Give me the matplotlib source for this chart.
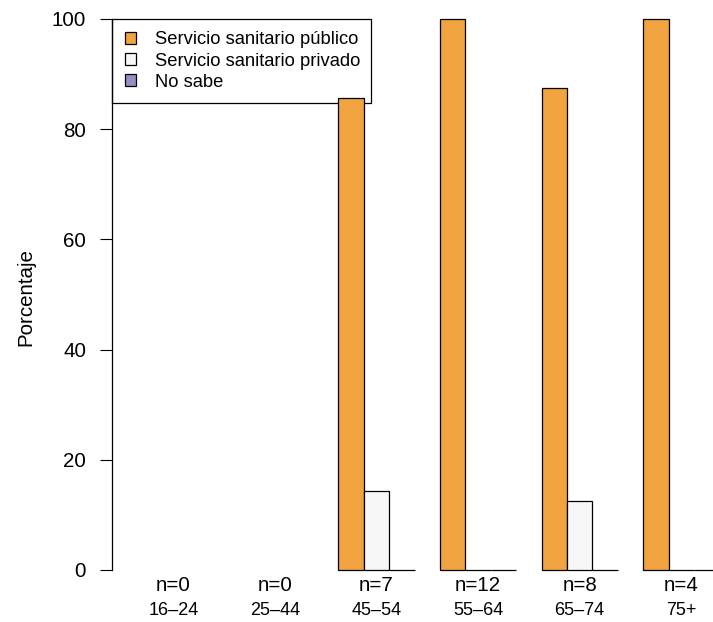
import matplotlib
matplotlib.use("Agg")
import matplotlib.pyplot as plt
import numpy as np

plt.rcParams['font.family'] = ['Liberation Sans', 'DejaVu Sans']

groups = ["16–24", "25–44", "45–54", "55–64", "65–74", "75+"]
counts = [0, 0, 7, 12, 8, 4]
series = ["Servicio sanitario público", "Servicio sanitario privado", "No sabe"]
colors = ["#F1A340", "#F7F7F7", "#998EC3"]

publico = [np.nan, np.nan, 85.714, 100.0, 87.5, 100.0]
privado = [np.nan, np.nan, 14.286, 0.0, 12.5, 0.0]
no_sabe = [np.nan, np.nan, 0.0, 0.0, 0.0, 0.0]
values = [publico, privado, no_sabe]

fig = plt.figure(figsize=(7.13, 6.22), dpi=100)
ax = fig.add_axes([112.3 / 713, 46.5 / 622, 600.7 / 713, 556.5 / 622])

# R style beside barplot: one unit per bar, one unit gap before each group
n_series = len(series)
group_left = 1 + np.arange(len(groups)) * (n_series + 1)
for j, (vals, col, name) in enumerate(zip(values, colors, series)):
    ax.bar(group_left + j + 0.5, vals, width=1.0, color=col, edgecolor="black",
           linewidth=0.9, label=name, zorder=2, clip_on=False)

centers = group_left + n_series / 2
ax.set_xticks(centers)
ax.set_xticklabels(groups, fontsize=13)
ax.tick_params(axis="x", length=0, pad=19)
for c, n in zip(centers, counts):
    ax.annotate(f"n={n}", xy=(c, 0), xytext=(0, -16), textcoords="offset pixels",
                ha="center", va="center", fontsize=14.8)

ax.set_xlim(0.1, 23.75)
ax.set_ylim(-1, 100)
ax.set_yticks([0, 20, 40, 60, 80, 100])
ax.tick_params(axis="y", length=8.9, width=0.8, pad=10, labelsize=14.8)
ax.set_ylabel("Porcentaje", fontsize=14.8, labelpad=12)

for s in ["top", "right", "bottom"]:
    ax.spines[s].set_visible(False)
ax.spines["left"].set_bounds(0, 100)
ax.spines["left"].set_linewidth(0.9)

leg = ax.legend(loc="upper left", bbox_to_anchor=(0, 0, 259 / 600.7, 1.0),
                mode="expand", borderaxespad=0, fancybox=False, edgecolor="black",
                framealpha=1, fontsize=13.2, handlelength=0.62, handleheight=0.62,
                handletextpad=1.05, labelspacing=0.22, borderpad=0.68)
leg.get_frame().set_linewidth(0.9)
leg.set_zorder(1)

fig.savefig("out.png", dpi=100)
